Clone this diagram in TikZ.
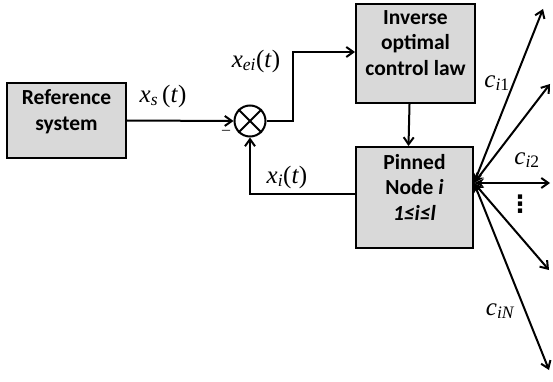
\documentclass[tikz,border=0pt]{standalone}
\usepackage{fontspec}
\setsansfont{Carlito}
\newfontfamily\tms{Liberation Serif}
\newfontfamily\djv{DejaVu Sans}
\usetikzlibrary{arrows.meta}
\definecolor{boxgray}{HTML}{D9D9D9}
\newcommand{\deep}{\rule[-21pt]{0pt}{21pt}}

\begin{document}
\begin{tikzpicture}[x=1pt,y=-1pt]
        \tikzset{block/.style={draw,line width=2pt,fill=boxgray,align=center,inner sep=0pt,
                font=\sffamily\bfseries\fontsize{21.5}{25.5}\selectfont},
            sig/.style={inner sep=0pt,font=\tms\itshape\fontsize{25}{28}\selectfont},
            link/.style={line width=2pt,-{Straight Barb[length=7pt,width=10pt]}},
            fan/.style={line width=2pt,{Stealth[length=10pt,width=9pt]}-{Straight Barb[length=7pt,width=10pt]}}}
        \useasboundingbox (0,0) rectangle (553,382);
        % blocks
        \node[block,minimum width=119pt,minimum height=75pt] (ref) at (66.5,120.5) {Reference\\system\deep};
        \node[block,minimum width=119pt,minimum height=99pt] (ioc) at (415.5,53.5) {Inverse\\optimal\\control law\deep};
        \node[block,minimum width=117pt,minimum height=101pt] (pin) at (414.5,197.5) {Pinned\\Node \textit{i}\\\textit{1≤i≤l}\deep};
        \node[circle,draw,line width=2pt,minimum size=31pt,inner sep=0pt] (sum) at (250,121) {};
        \draw[line width=2pt] (sum.north east) -- (sum.south west) (sum.north west) -- (sum.south east);
        % signals
        \draw[link] (ref.east) -- (sum.west);
        \draw[link] (sum.east) -- ++(26,0) |- ([yshift=1.5pt]ioc.west);
        \draw[link] ([xshift=-6pt]ioc.south) -- ([xshift=-6pt]pin.north);
        \draw[link] ([yshift=3.5pt]pin.west) -| (sum.south);
        % couplings
        \coordinate (hub) at ([yshift=14.5pt]pin.east);
        \coordinate (n1) at (543,9);
        \coordinate (n2) at (550,84);
        \coordinate (n3) at (550,183);
        \coordinate (n4) at (549,270);
        \coordinate (n5) at (549,370);
        \foreach \t in {n1,n2,n3,n4,n5}
            \draw[fan] (hub) -- (\t);
        % labels
        \node[sig] (lxs) at (163,96) {x\textsubscript{s}\,\textup{(}t\textup{)}};
        \node[sig] (lxe) at (256,61) {x\textsubscript{ei}\textup{(}t\textup{)}};
        \node[sig] (lxi) at (287,177) {x\textsubscript{i}\textup{(}t\textup{)}};
        \node[sig] (lc1) at (497,83) {c\textsubscript{i\textup{1}}};
        \node[sig] (lc2) at (527,160) {c\textsubscript{i\textup{2}}};
        \node[sig] (lcn) at (500,311) {c\textsubscript{iN}};
        \node[inner sep=0pt,font=\tms\fontsize{16}{16}\selectfont] (minus) at (226,132) {–};
        \node[inner sep=0pt,font=\djv\bfseries\fontsize{24}{24}\selectfont] (dots) at (520,204) {⋮};
    \end{tikzpicture}
\end{document}
